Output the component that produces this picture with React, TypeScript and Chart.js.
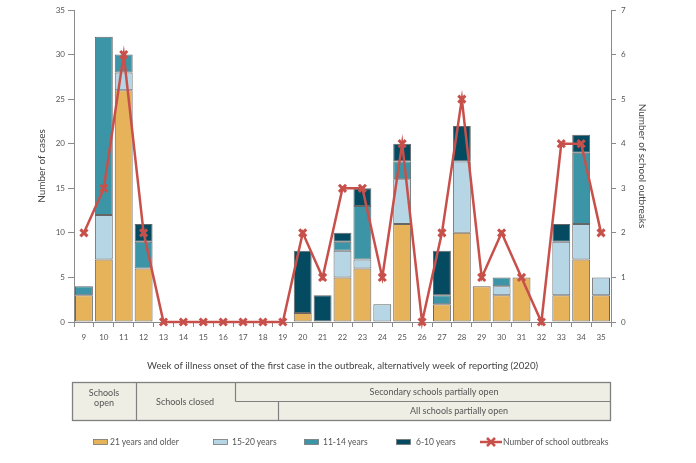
import React, { useEffect, useRef } from "react";
import { Chart, registerables } from "chart.js";

Chart.register(...registerables);

const weeks = ["9", "10", "11", "12", "13", "14", "15", "16", "17", "18", "19", "20", "21", "22", "23", "24", "25", "26", "27", "28", "29", "30", "31", "32", "33", "34", "35"];
const age21Plus = [3, 7, 26, 6, 0, 0, 0, 0, 0, 0, 0, 1, 0, 5, 6, 0, 11, 0, 2, 10, 4, 3, 5, 0, 3, 7, 3];
const age15to20 = [0, 5, 2, 0, 0, 0, 0, 0, 0, 0, 0, 0, 0, 3, 1, 2, 5, 0, 0, 8, 0, 1, 0, 0, 6, 4, 2];
const age11to14 = [1, 20, 2, 3, 0, 0, 0, 0, 0, 0, 0, 0, 0, 1, 6, 0, 2, 0, 1, 0, 0, 1, 0, 0, 0, 8, 0];
const age6to10 = [0, 0, 0, 2, 0, 0, 0, 0, 0, 0, 0, 7, 3, 1, 2, 0, 2, 0, 5, 4, 0, 0, 0, 0, 2, 2, 0];
const outbreaks = [2, 3, 6, 2, 0, 0, 0, 0, 0, 0, 0, 2, 1, 3, 3, 1, 4, 0, 2, 5, 1, 2, 1, 0, 4, 4, 2];

const seriesNames = ["21 years and older", "15-20 years", "11-14 years", "6-10 years"];
const lineName = "Number of school outbreaks";
const xTitle = "Week of illness onset of the first case in the outbreak, alternatively week of reporting (2020)";
const yTitle = "Number of cases";
const y1Title = "Number of school outbreaks";

const COLORS = ["#E6B35B", "#B6D6E6", "#3C95A6", "#044A61"];
const RED = "#C8504B";
const FONT = "Lato, 'Open Sans', sans-serif";
const TEXT = "#555555";
const AXIS = "#8a8a8a";

export default function App() {
  const ref = useRef<HTMLCanvasElement | null>(null);

  useEffect(() => {
    if (!ref.current) return;
    const seriesData = [age21Plus, age15to20, age11to14, age6to10];
    const barSets = seriesData.map((d, i) => ({
      type: "bar" as const,
      label: seriesNames[i],
      data: d.map((v) => (v === 0 ? null : v)),
      backgroundColor: COLORS[i],
      borderColor: "#666666",
      borderWidth: 1,
      borderSkipped: false as const,
      barPercentage: 0.9,
      categoryPercentage: 1.0,
      yAxisID: "y",
      order: 1,
    }));
    const chart = new Chart(ref.current, {
      type: "bar",
      data: {
        labels: weeks,
        datasets: [
          ...barSets,
          {
            type: "line" as const,
            label: lineName,
            data: outbreaks,
            yAxisID: "y1",
            borderColor: RED,
            backgroundColor: RED,
            borderWidth: 2.5,
            pointStyle: "crossRot",
            pointRadius: 5,
            pointBorderWidth: 3,
            pointBorderColor: RED,
            tension: 0,
            order: 0,
            clip: false,
          } as any,
        ],
      },
      options: {
        responsive: false,
        animation: false,
        layout: { padding: { top: 10, bottom: 91, left: 0, right: 0 } },
        plugins: { legend: { display: false }, tooltip: { enabled: false } },
        scales: {
          x: {
            stacked: true,
            offset: true,
            grid: { display: true, drawOnChartArea: false, drawTicks: true, tickLength: 5, offset: true, color: AXIS },
            border: { display: true, color: AXIS, width: 1 },
            ticks: { color: TEXT, font: { family: FONT, size: 8 }, padding: 6, maxRotation: 0, autoSkip: false },
            title: { display: true, text: xTitle, color: "#444", font: { family: FONT, size: 9.7 }, padding: { top: 0, bottom: 0 } },
            afterFit: (s: any) => { s.height = 50; },
          },
          y: {
            stacked: true,
            position: "left",
            min: 0,
            max: 35,
            grid: { display: true, drawOnChartArea: false, drawTicks: true, tickLength: 6, color: AXIS },
            border: { display: true, color: AXIS, width: 1 },
            ticks: { stepSize: 5, color: TEXT, font: { family: FONT, size: 8 }, padding: 3 },
            title: { display: true, text: yTitle, color: "#444", font: { family: FONT, size: 10 }, padding: { top: 36, bottom: 0 } },
            afterFit: (s: any) => { s.width = 74; },
          },
          y1: {
            position: "right",
            min: 0,
            max: 7,
            grid: { display: true, drawOnChartArea: false, drawTicks: true, tickLength: 5, color: AXIS },
            border: { display: true, color: AXIS, width: 1 },
            ticks: { stepSize: 1, color: TEXT, font: { family: FONT, size: 8 }, padding: 5 },
            title: { display: true, text: y1Title, color: "#444", font: { family: FONT, size: 10 }, padding: { top: 48, bottom: 0 } },
            afterFit: (s: any) => { s.width = 85; },
          },
        },
      } as any,
    });
    return () => chart.destroy();
  }, []);

  const legendItems = [
    { x: 93, tx: 110, label: seriesNames[0], color: COLORS[0] },
    { x: 213, tx: 232, label: seriesNames[1], color: COLORS[1] },
    { x: 304, tx: 323, label: seriesNames[2], color: COLORS[2] },
    { x: 396, tx: 416, label: seriesNames[3], color: COLORS[3] },
  ];
  const ly = 442;

  return (
    <div style={{ position: "absolute", left: 0, top: 0, width: 696, height: 463, background: "#fff" }}>
      <canvas ref={ref} width={696} height={463} style={{ position: "absolute", left: 0, top: 0, width: 696, height: 463 }} />
      <svg width={696} height={463} style={{ position: "absolute", left: 0, top: 0, pointerEvents: "none" }} fontFamily={FONT}>
        <rect x={72.5} y={382.5} width={538} height={38} fill="#EEEEE4" stroke="#808080" strokeWidth={1.3} />
        <line x1={136.5} y1={382.5} x2={136.5} y2={420.5} stroke="#808080" strokeWidth={1.2} />
        <line x1={235.5} y1={382.5} x2={235.5} y2={401.5} stroke="#808080" strokeWidth={1.2} />
        <line x1={235.5} y1={401.5} x2={610.5} y2={401.5} stroke="#808080" strokeWidth={1.2} />
        <line x1={278.5} y1={401.5} x2={278.5} y2={420.5} stroke="#808080" strokeWidth={1.2} />
        <text x={104} y={396} fontSize={9} fill={TEXT} textAnchor="middle">Schools</text>
        <text x={104} y={406} fontSize={9} fill={TEXT} textAnchor="middle">open</text>
        <text x={185} y={405} fontSize={9} fill={TEXT} textAnchor="middle">Schools closed</text>
        <text x={434} y={395} fontSize={9} fill={TEXT} textAnchor="middle">Secondary schools  partially open</text>
        <text x={459} y={414} fontSize={9} fill={TEXT} textAnchor="middle">All schools partially open</text>
        {legendItems.map((it) => (
          <g key={it.label}>
            <rect x={it.x + 0.5} y={ly - 2.5} width={14} height={5} fill={it.color} stroke="#777" strokeWidth={0.8} />
            <text x={it.tx} y={ly + 3} fontSize={8.5} fill={TEXT}>{it.label}</text>
          </g>
        ))}
        <line x1={480} y1={ly} x2={502} y2={ly} stroke={RED} strokeWidth={2.5} />
        <line x1={487} y1={ly - 4} x2={495} y2={ly + 4} stroke={RED} strokeWidth={2.5} />
        <line x1={487} y1={ly + 4} x2={495} y2={ly - 4} stroke={RED} strokeWidth={2.5} />
        <text x={503} y={ly + 3} fontSize={8.5} fill={TEXT}>{lineName}</text>
      </svg>
    </div>
  );
}
